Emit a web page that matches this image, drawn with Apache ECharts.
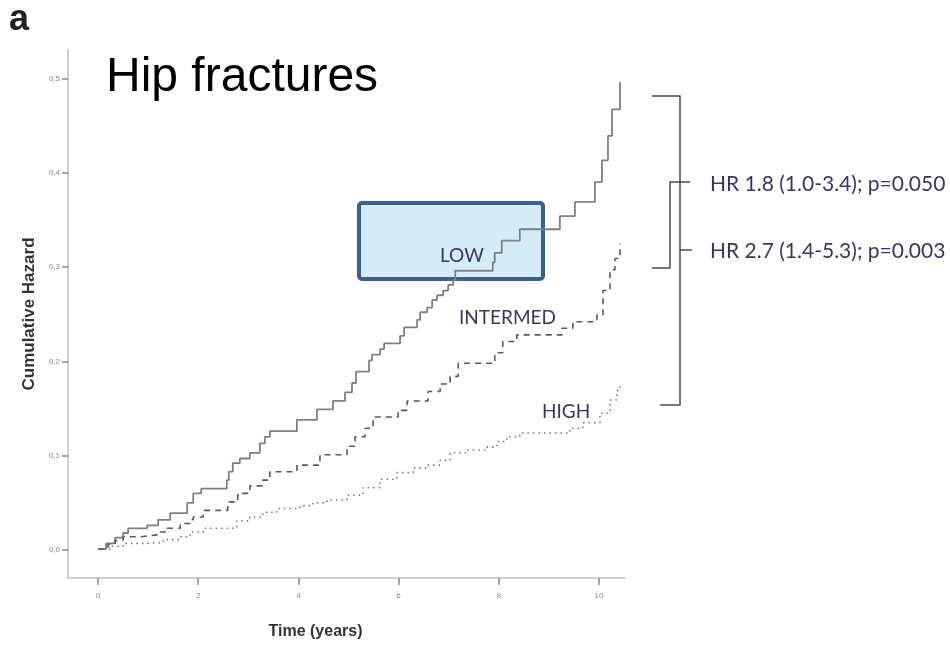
<!DOCTYPE html>
<html>
<head>
<meta charset="utf-8">
<script src="https://cdn.jsdelivr.net/npm/echarts@6/dist/echarts.min.js"></script>
<style>html,body{margin:0;padding:0;background:#fff}#c{width:950px;height:647px}</style>
</head>
<body>
<div id="c"></div>
<script>
// ---- data ----
var xTicks = [0, 2, 4, 6, 8, 10];
var yTicks = [0, 0.1, 0.2, 0.3, 0.4, 0.5];

var lowTime = [0, 0.16, 0.34, 0.50, 0.60, 0.98, 1.20, 1.44, 1.78, 1.90, 2.06, 2.57, 2.61, 2.69, 2.83, 3.03, 3.23, 3.33, 3.43, 3.97, 4.37, 4.69, 4.93, 5.07, 5.15, 5.41, 5.47, 5.63, 5.71, 6.03, 6.11, 6.37, 6.43, 6.57, 6.67, 6.77, 6.89, 6.99, 7.09, 7.13, 7.88, 7.92, 8.06, 8.42, 9.22, 9.52, 9.92, 10.06, 10.18, 10.26, 10.42];
var lowHaz  = [0.001, 0.007, 0.013, 0.018, 0.023, 0.026, 0.032, 0.039, 0.050, 0.060, 0.065, 0.074, 0.083, 0.092, 0.097, 0.103, 0.113, 0.120, 0.126, 0.138, 0.149, 0.158, 0.167, 0.177, 0.189, 0.201, 0.207, 0.213, 0.219, 0.227, 0.236, 0.244, 0.252, 0.257, 0.265, 0.270, 0.275, 0.281, 0.286, 0.296, 0.305, 0.315, 0.328, 0.340, 0.354, 0.369, 0.390, 0.413, 0.439, 0.467, 0.496];

var intTime = [0, 0.20, 0.34, 0.50, 0.84, 1.18, 1.38, 1.64, 1.84, 1.90, 2.10, 2.59, 2.79, 3.03, 3.27, 3.43, 3.97, 4.43, 4.97, 5.13, 5.33, 5.49, 5.99, 6.17, 6.59, 6.83, 7.03, 7.19, 7.92, 8.08, 8.36, 9.26, 9.48, 9.96, 10.08, 10.22, 10.32, 10.42];
var intHaz  = [0.001, 0.006, 0.010, 0.014, 0.016, 0.019, 0.023, 0.028, 0.032, 0.035, 0.042, 0.051, 0.060, 0.068, 0.074, 0.083, 0.090, 0.101, 0.110, 0.120, 0.129, 0.141, 0.148, 0.158, 0.168, 0.176, 0.184, 0.198, 0.209, 0.221, 0.228, 0.235, 0.242, 0.249, 0.275, 0.297, 0.309, 0.325];

var highTime = [0, 0.24, 0.50, 0.98, 1.30, 1.64, 1.84, 2.10, 2.77, 3.03, 3.29, 3.57, 4.03, 4.29, 4.57, 4.97, 5.29, 5.63, 5.97, 6.29, 6.57, 6.83, 7.03, 7.37, 7.76, 7.96, 8.16, 8.42, 9.42, 9.68, 10.02, 10.22, 10.36, 10.42];
var highHaz  = [0.001, 0.004, 0.007, 0.008, 0.011, 0.014, 0.019, 0.023, 0.031, 0.035, 0.040, 0.044, 0.047, 0.050, 0.053, 0.058, 0.066, 0.075, 0.082, 0.087, 0.090, 0.095, 0.103, 0.106, 0.109, 0.115, 0.120, 0.124, 0.129, 0.135, 0.145, 0.159, 0.169, 0.177];

var groupNames = ['LOW', 'INTERMED', 'HIGH'];
var hrTexts = ['HR 1.8 (1.0-3.4); p=0.050', 'HR 2.7 (1.4-5.3); p=0.003'];
var titleText = 'Hip fractures';
var panelLetter = 'a';
var xName = 'Time (years)';
var yName = 'Cumulative Hazard';

function zip(a, b) { return a.map(function (v, i) { return [v, b[i]]; }); }

var chart = echarts.init(document.getElementById('c'), null, { renderer: 'canvas' });
var labelFont = 'Lato, "Open Sans", sans-serif';
var labelColor = '#3b3563';
var bracketStyle = { stroke: '#4a4a4a', lineWidth: 1.5, fill: null };

chart.setOption({
  animation: false,
  backgroundColor: '#fff',
  grid: { left: 68, right: 325, top: 50, bottom: 69, containLabel: false },
  xAxis: {
    type: 'value', min: -0.6, max: 10.52,
    name: xName, nameLocation: 'middle', nameGap: 46,
    nameTextStyle: { fontFamily: 'Liberation Sans, Arial, sans-serif', fontWeight: 'bold', fontSize: 16, color: '#333', padding: [0, 62, 0, 0] },
    axisLine: { show: true, onZero: false, lineStyle: { color: '#cfcfcf', width: 2 } },
    axisTick: { show: true, customValues: xTicks, length: 7, lineStyle: { color: '#8a8a8a', width: 1.5 } },
    axisLabel: { customValues: xTicks, fontSize: 8, color: '#888', margin: 14, fontFamily: 'Liberation Sans, sans-serif' },
    splitLine: { show: false }
  },
  yAxis: {
    type: 'value', min: -0.0297, max: 0.53,
    name: yName, nameLocation: 'middle', nameGap: 25, nameRotate: 90,
    nameTextStyle: { fontFamily: 'Liberation Sans, Arial, sans-serif', fontWeight: 'bold', fontSize: 17, color: '#333' },
    axisLine: { show: true, onZero: false, lineStyle: { color: '#cfcfcf', width: 2 } },
    axisTick: { show: true, customValues: yTicks, length: 6, lineStyle: { color: '#8a8a8a', width: 1.5 } },
    axisLabel: {
      customValues: yTicks, fontSize: 8, color: '#888', margin: 8, fontFamily: 'Liberation Sans, sans-serif',
      formatter: function (v) { return v.toFixed(1).replace('.', ','); }
    },
    splitLine: { show: false }
  },
  series: [
    { name: groupNames[0], type: 'line', step: 'end', showSymbol: false, z: 3,
      data: zip(lowTime, lowHaz), lineStyle: { color: '#808080', width: 1.8, type: 'solid' } },
    { name: groupNames[1], type: 'line', step: 'end', showSymbol: false, z: 3,
      data: zip(intTime, intHaz), lineStyle: { color: '#5a5a5a', width: 1.6, type: [6, 5] } },
    { name: groupNames[2], type: 'line', step: 'end', showSymbol: false, z: 3,
      data: zip(highTime, highHaz), lineStyle: { color: '#777', width: 1.6, type: [1.5, 4] } }
  ],
  graphic: [
    { type: 'text', left: 9, top: 2, z: 10, style: { text: panelLetter, font: 'bold 36px "Liberation Sans", Arial, sans-serif', fill: '#222' } },
    { type: 'text', left: 106, top: 54, z: 10, style: { text: titleText, font: '48px "Liberation Sans", Arial, sans-serif', fill: '#000' } },
    { type: 'rect', z: 1, shape: { x: 359, y: 203, width: 184, height: 76, r: 3 },
      style: { fill: 'rgba(160,212,240,0.45)', stroke: '#3d5f8f', lineWidth: 4 } },
    { type: 'text', z: 10, x: 440, y: 256, style: { text: groupNames[0], font: '19px ' + labelFont, fill: labelColor, textVerticalAlign: 'middle' } },
    { type: 'text', z: 10, x: 459, y: 318, style: { text: groupNames[1], font: '19px ' + labelFont, fill: labelColor, textVerticalAlign: 'middle' } },
    { type: 'text', z: 10, x: 542, y: 412, style: { text: groupNames[2], font: '19px ' + labelFont, fill: labelColor, textVerticalAlign: 'middle' } },
    { type: 'polyline', z: 10, shape: { points: [[652, 96], [680, 96], [680, 405], [660, 405]] }, style: bracketStyle },
    { type: 'polyline', z: 10, shape: { points: [[680, 250], [692, 250]] }, style: bracketStyle },
    { type: 'polyline', z: 10, shape: { points: [[680, 182], [670, 182], [670, 268], [652, 268]] }, style: bracketStyle },
    { type: 'polyline', z: 10, shape: { points: [[680, 182], [690, 182]] }, style: bracketStyle },
    { type: 'text', z: 10, x: 710, y: 184, style: { text: hrTexts[0], font: '21px ' + labelFont, fill: labelColor, textVerticalAlign: 'middle' } },
    { type: 'text', z: 10, x: 710, y: 251, style: { text: hrTexts[1], font: '21px ' + labelFont, fill: labelColor, textVerticalAlign: 'middle' } }
  ]
});
</script>
</body>
</html>
